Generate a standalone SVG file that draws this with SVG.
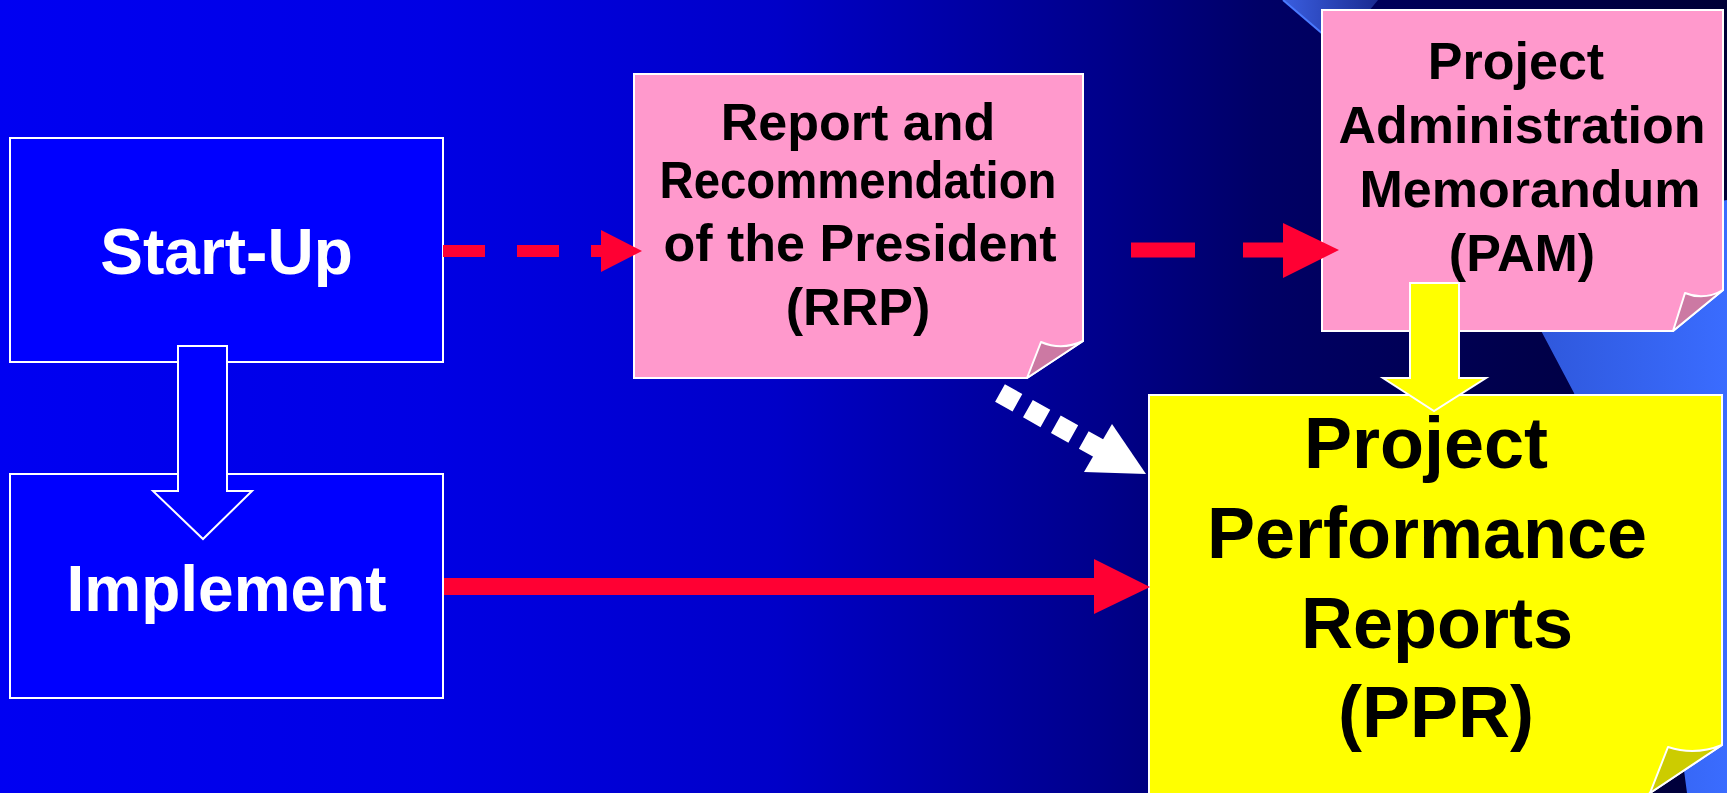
<svg xmlns="http://www.w3.org/2000/svg" width="1727" height="793" viewBox="0 0 1727 793">
<defs>
<linearGradient id="bg" gradientUnits="userSpaceOnUse" x1="0" y1="0" x2="1727" y2="0">
<stop offset="0" stop-color="#0000F2"/>
<stop offset="0.25" stop-color="#0000E4"/>
<stop offset="0.45" stop-color="#0000C8"/>
<stop offset="0.64" stop-color="#00008A"/>
<stop offset="0.73" stop-color="#000066"/>
<stop offset="1" stop-color="#000036"/>
</linearGradient>
<linearGradient id="band" gradientUnits="userSpaceOnUse" x1="1283" y1="0" x2="1380" y2="0">
<stop offset="0" stop-color="#3a5ee0"/>
<stop offset="1" stop-color="#1a2a90"/>
</linearGradient>
<linearGradient id="light" gradientUnits="userSpaceOnUse" x1="1540" y1="0" x2="1727" y2="0">
<stop offset="0" stop-color="#2f58dc"/>
<stop offset="1" stop-color="#3a6cff"/>
</linearGradient>
</defs>
<style>
.blue{fill:#0000FF;stroke:#FFFFFF;stroke-width:2}
.pink{fill:#FF99CC;stroke:#FFFFFF;stroke-width:2}
.yellow{fill:#FFFF00;stroke:#FFFFFF;stroke-width:2}
.pfold{fill:#CC79A3;stroke:#FFFFFF;stroke-width:2;stroke-linejoin:round}
.yfold{fill:#CCCC00;stroke:#FFFFFF;stroke-width:2;stroke-linejoin:round}
.t{font-family:"Liberation Sans",Arial,sans-serif;font-weight:bold;text-anchor:middle}
.wt{fill:#FFFFFF;font-size:64px}
.bk{fill:#000000}
.s52{font-size:52px}
.s72{font-size:72px}
.red{fill:#FF0033}
.redline{stroke:#FF0033;fill:none}
</style>
<rect x="0" y="0" width="1727" height="793" fill="url(#bg)"/>
<polygon points="1283,0 1378,0 1345,40 1322,33" fill="url(#band)"/>
<line x1="1283" y1="0" x2="1324" y2="35" stroke="#4a7aff" stroke-width="2"/>
<polygon points="1493,240 1727,200 1727,793 1687,793 1680,740 1574,393" fill="url(#light)"/>
<g id="nodes">
<g id="startup">
<rect class="blue" x="10" y="138" width="433" height="224"/>
<text class="t wt" x="226.5" y="274">Start-Up</text>
</g>
<g id="implement">
<rect class="blue" x="10" y="474" width="433" height="224"/>
<text class="t wt" x="226.5" y="611">Implement</text>
</g>
<g id="rrp">
<polygon class="pink" points="634,74 1083,74 1083,341 1027,378 634,378"/>
<path class="pfold" d="M1041,342 Q1062,351 1083,341 L1027,378 Z"/>
<text class="t bk s52" x="858" y="140">Report and</text>
<text class="t bk s52" x="858" y="198" textLength="397" lengthAdjust="spacingAndGlyphs">Recommendation</text>
<text class="t bk s52" x="860" y="261">of the President</text>
<text class="t bk s52" x="858" y="325">(RRP)</text>
</g>
<g id="pam">
<polygon class="pink" points="1322,10 1723,10 1723,290 1673,331 1322,331"/>
<path class="pfold" d="M1685,293 Q1704,301 1723,290 L1673,331 Z"/>
<text class="t bk s52" x="1516" y="79">Project</text>
<text class="t bk s52" x="1522" y="143">Administration</text>
<text class="t bk s52" x="1530" y="207">Memorandum</text>
<text class="t bk s52" x="1522" y="271">(PAM)</text>
</g>
<g id="ppr">
<polygon class="yellow" points="1149,395 1722,395 1722,745 1639.5,800 1149,800"/>
<path class="yfold" d="M1668,747 Q1695,756 1722,745 L1650,793 Z"/>
<text class="t bk s72" x="1426" y="468">Project</text>
<text class="t bk s72" x="1427" y="558">Performance</text>
<text class="t bk s72" x="1437" y="648">Reports</text>
<text class="t bk s72" x="1436" y="737">(PPR)</text>
</g>
</g>
<g id="connectors">
<g id="startup-implement">
<polygon class="blue" points="178,346 227,346 227,491 252,491 203,539 153,491 178,491"/>
</g>
<g id="startup-rrp">
<line class="redline" x1="443" y1="251" x2="602" y2="251" stroke-width="12" stroke-dasharray="42 32"/>
<polygon class="red" points="601,230 642,251 601,272"/>
</g>
<g id="rrp-pam">
<line class="redline" x1="1131" y1="250" x2="1284" y2="250" stroke-width="15" stroke-dasharray="64 48"/>
<polygon class="red" points="1283,223 1339,250 1283,278"/>
</g>
<g id="implement-ppr">
<rect class="red" x="444" y="578" width="651" height="17"/>
<polygon class="red" points="1094,559 1150,587 1094,614"/>
</g>
<g id="rrp-ppr">
<line x1="1000" y1="393" x2="1100" y2="449" stroke="#FFFFFF" stroke-width="20" stroke-dasharray="20 12"/>
<polygon fill="#FFFFFF" points="1112,424 1146,474 1084,472"/>
</g>
<g id="pam-ppr">
<polygon class="yellow" points="1410,283 1459,283 1459,378 1486,378 1434,411 1383,378 1410,378"/>
</g>
</g>
</svg>
